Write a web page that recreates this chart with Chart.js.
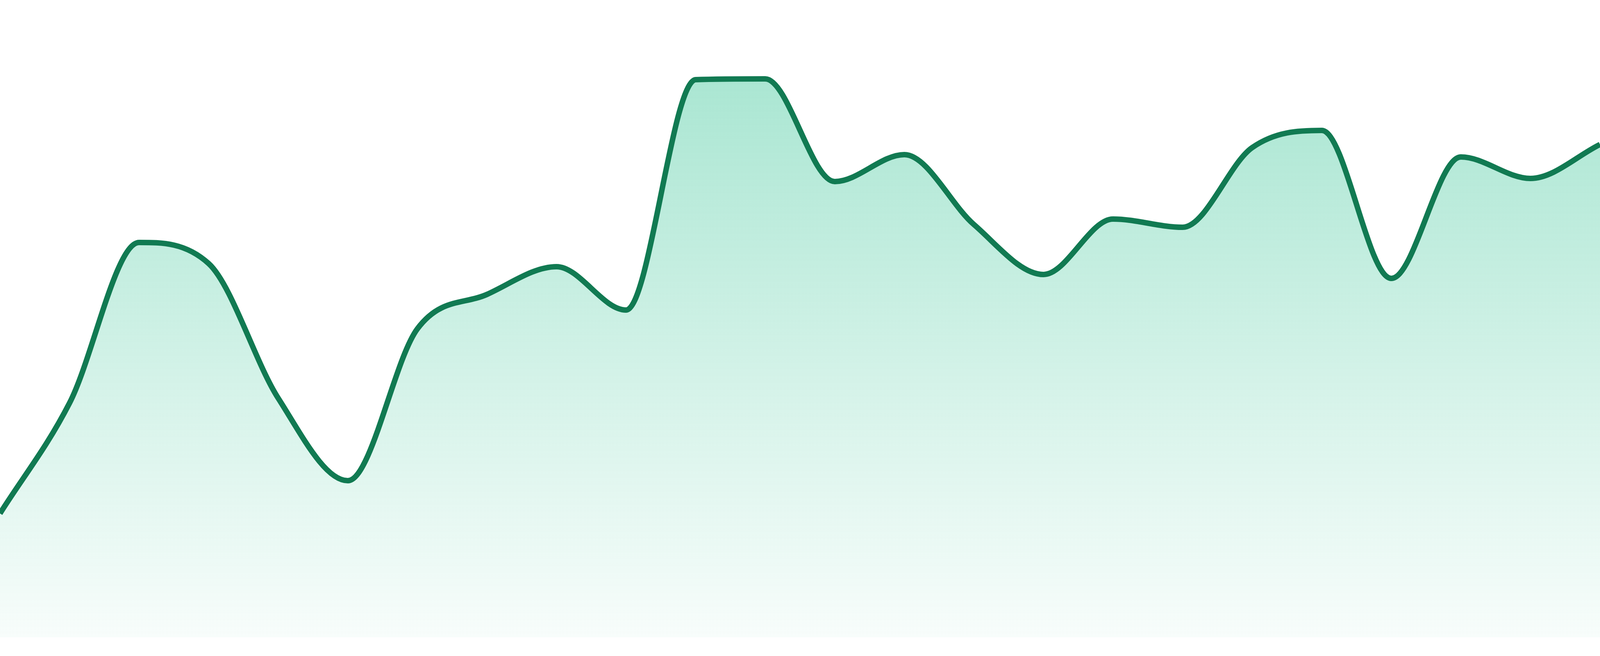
<!DOCTYPE html>
<html>
<head>
<meta charset="utf-8">
<script src="https://cdn.jsdelivr.net/npm/chart.js@4/dist/chart.umd.min.js"></script>
<style>
  html, body { margin: 0; padding: 0; background: #ffffff; overflow: hidden; }
  #wrap { width: 100vw; height: 100vh; position: relative; }
</style>
</head>
<body>
<div id="wrap"><canvas id="spark"></canvas></div>
<script>
// categories (no visible labels in the picture)
const labels = ['1', '2', '3', '4', '5', '6', '7', '8', '9', '10', '11', '12',
                '13', '14', '15', '16', '17', '18', '19', '20', '21', '22', '23', '24'];

// series values
const values = [31.7, 60.0, 101.1, 95.7, 61.2, 40.1, 79.0, 87.8, 94.9, 83.8, 142.8, 143.0,
                116.7, 123.6, 105.7, 92.9, 107.1, 105.0, 125.4, 129.8, 91.9, 123.0, 117.5, 126.2];

// value range of the hidden y axis
const yRange = [0, 163.2];

// sizes relative to the window height (reference is 1680 px tall)
const unit = window.innerHeight / 1680;

const ctx = document.getElementById('spark').getContext('2d');

// green fill that fades out towards the bottom
function areaFill(context) {
    const area = context.chart.chartArea;
    if (!area) return 'rgba(16, 185, 129, 0.2)';
    const g = context.chart.ctx.createLinearGradient(0, area.top, 0, area.bottom);
    g.addColorStop(0, 'rgba(16, 185, 129, 0.40)');
    g.addColorStop(1, 'rgba(16, 185, 129, 0.03)');
    return g;
}

const data = {
    labels: labels,
    datasets: [{
        data: values,
        borderColor: '#117a52',
        borderWidth: 14 * unit,
        backgroundColor: areaFill,
        fill: 'origin',
        pointRadius: 0,
        cubicInterpolationMode: 'monotone'
    }]
};

const config = {
    type: 'line',
    data: data,
    options: {
        responsive: true,
        maintainAspectRatio: false,
        animation: false,
        layout: { padding: { top: 0, left: 0, right: 0, bottom: 48 * unit } },
        plugins: { legend: { display: false }, tooltip: { enabled: false } },
        scales: {
            x: { display: false },
            y: { display: false, min: yRange[0], max: yRange[1] }
        }
    }
};

const sparkChart = new Chart(ctx, config);
</script>
</body>
</html>
